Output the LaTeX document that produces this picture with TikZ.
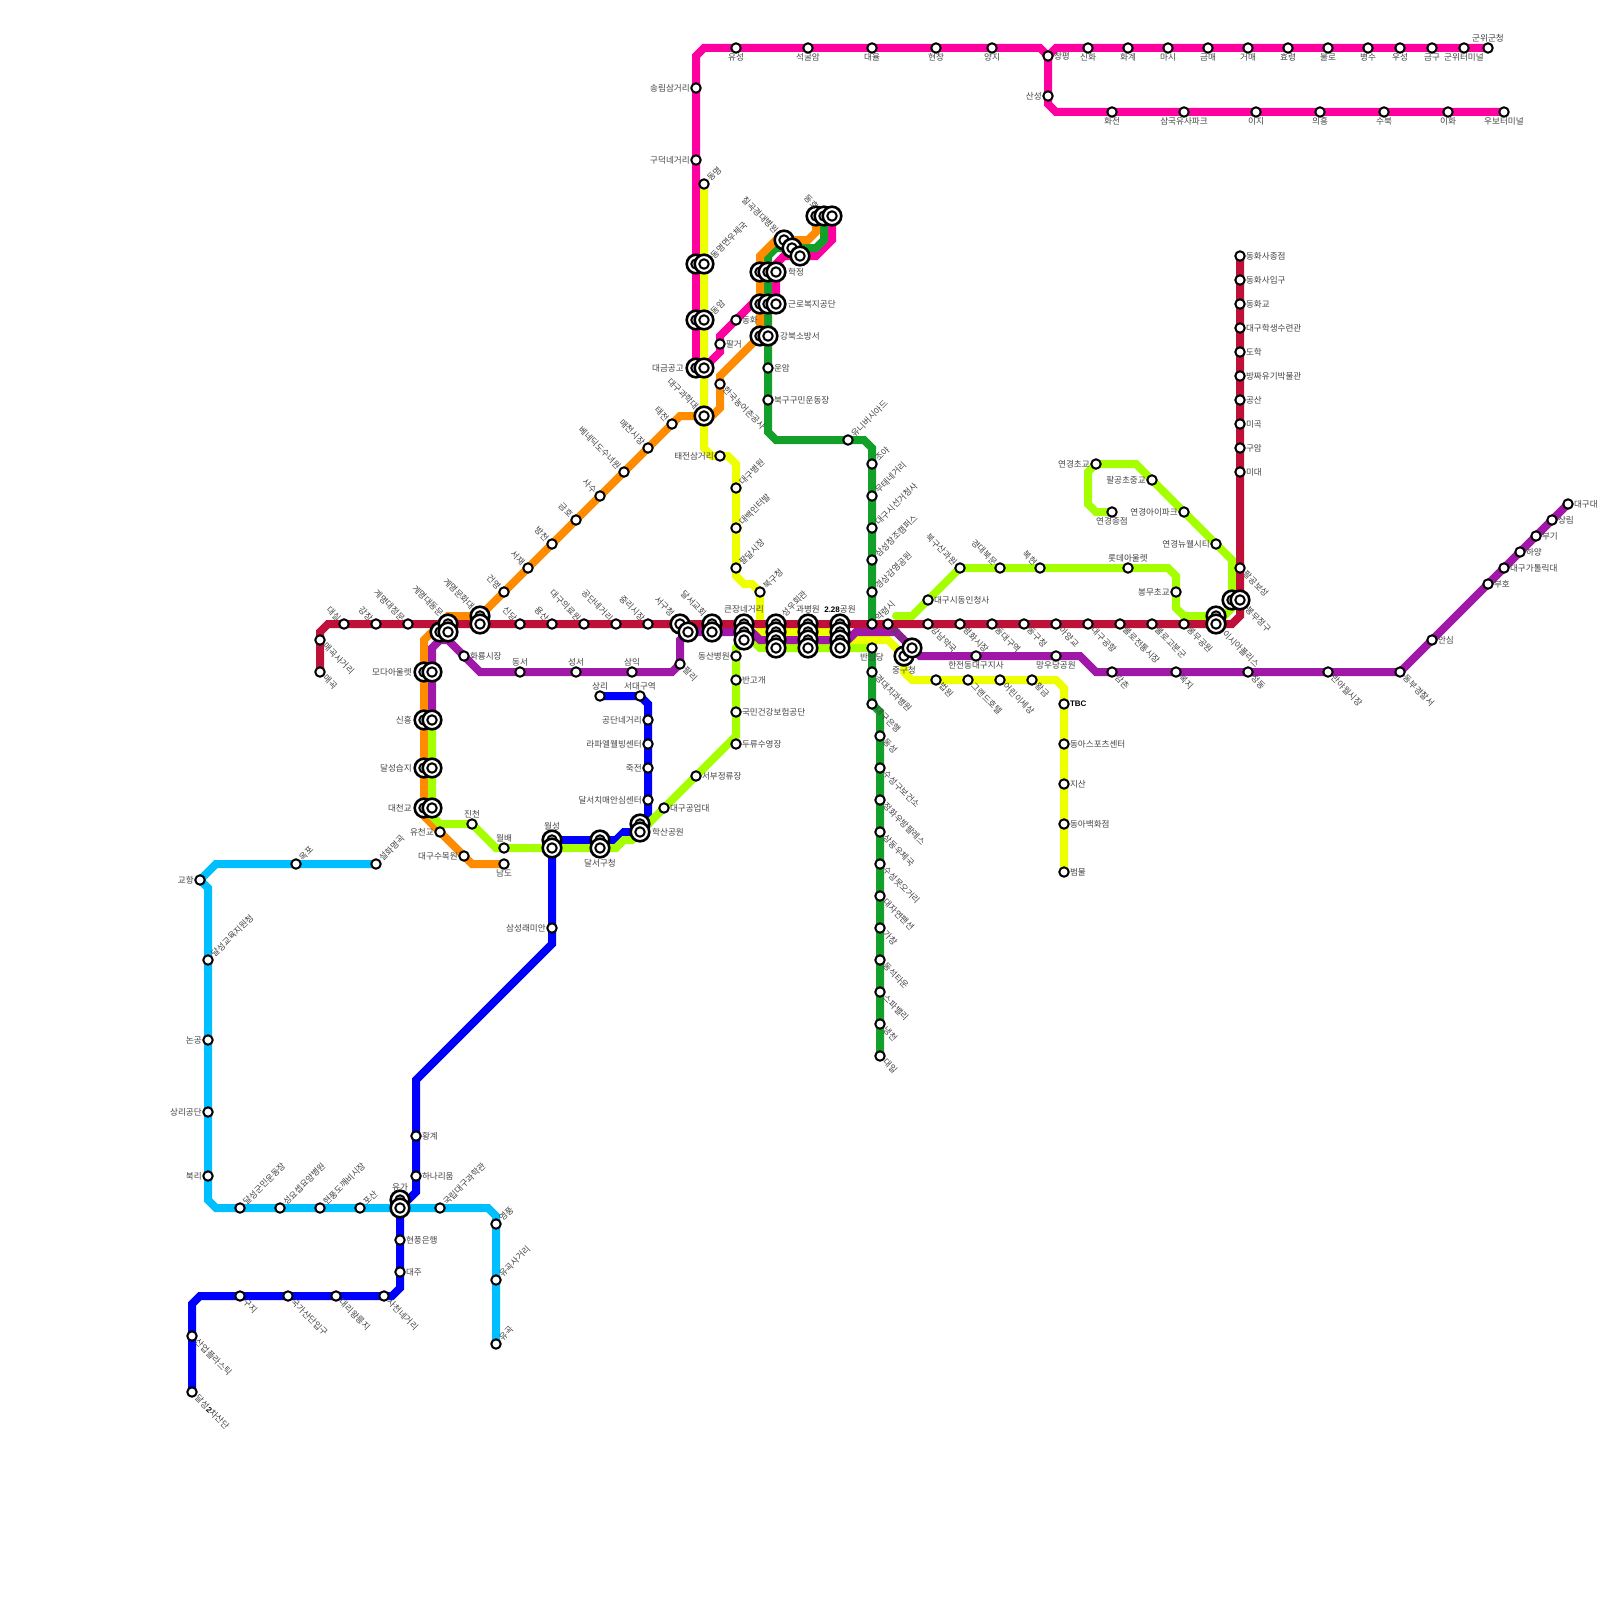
\documentclass[tikz,border=0pt]{standalone}
\usepackage{fontspec}
\setmainfont{Noto Sans CJK KR}
\newfontfamily\lsb{Liberation Sans}
\pgfdeclarelayer{bg}
\pgfsetlayers{bg,main}
\definecolor{cPink}{HTML}{FF00A0}
\definecolor{cLime}{HTML}{A6FF00}
\definecolor{cYel}{HTML}{EEFF00}
\definecolor{cOra}{HTML}{FF8C00}
\definecolor{cGre}{HTML}{12A02A}
\definecolor{cRed}{HTML}{BE1038}
\definecolor{cPur}{HTML}{A018A8}
\definecolor{cCya}{HTML}{00BFFF}
\definecolor{cBlu}{HTML}{0000FF}
\definecolor{cTxt}{HTML}{444444}
\newcounter{lbn}
\newcommand\bfl[1]{{\lsb\bfseries\fontsize{8}{9}\selectfont\color{black}#1}}
\tikzset{
  ln/.style={line width=8pt,line cap=round,line join=miter,miter limit=4},
  sta/.style={circle,draw=black,fill=white,line width=2pt,minimum size=9.4pt,inner sep=0pt},
  xo/.style={circle,draw=black,fill=white,line width=2.6pt,minimum size=18.6pt,inner sep=0pt},
  txt/.style={font=\fontsize{8.6}{9}\selectfont,text=cTxt,inner sep=0pt},
  lR/.style={txt,xshift=5.8pt,anchor=west},
  lL/.style={txt,xshift=-6pt,anchor=east},
  lA/.style={txt,yshift=5.5pt,anchor=south},
  lB/.style={txt,yshift=-5.5pt,anchor=north},
  lUR/.style={txt,xshift=4.5pt,yshift=4.5pt,rotate=45,anchor=west},
  lUL/.style={txt,xshift=-4.5pt,yshift=4.5pt,rotate=-45,anchor=east},
  lDR/.style={txt,xshift=4.5pt,yshift=-4.5pt,rotate=-45,anchor=west},
  bW/.style={txt,anchor=west},
  bE/.style={txt,anchor=east},
  bS/.style={txt,anchor=south},
  bN/.style={txt,anchor=north},
  bUR/.style={txt,rotate=45,anchor=west},
  bUL/.style={txt,rotate=-45,anchor=east},
  bDR/.style={txt,rotate=-45,anchor=west},
}
\newcommand\stn[5]{\node[sta] (#1) at (#2,#3) {};\stepcounter{lbn}\node[#4] (lb\thelbn) at (#2,#3) {#5};}
\newcommand\xf[3]{\node[xo] (#1) at (#2,#3) {};\node[sta] (#1-i) at (#2,#3) {};}
\newcommand\lb[4]{\stepcounter{lbn}\node[#1] (lb\thelbn) at (#2,#3) {#4};}
\begin{document}
\begin{tikzpicture}[x=1pt,y=-1pt]
\useasboundingbox (0,0) rectangle (1600,1600);
% interchanges
\xf{xa1}{696}{264}\xf{xa2}{704}{264}
\xf{xb1}{696}{320}\xf{xb2}{704}{320}
\xf{xc1}{696}{368}\xf{xc2}{704}{368}
\xf{xd}{704}{416}
\xf{xe1}{816}{216}\xf{xe2}{824}{216}\xf{xe3}{832}{216}
\xf{xf1}{784}{240}\xf{xf2}{792}{248}\xf{xf3}{800}{256}
\xf{xg1}{760}{272}\xf{xg2}{768}{272}\xf{xg3}{776}{272}
\xf{xh1}{760}{304}\xf{xh2}{768}{304}\xf{xh3}{776}{304}
\xf{xi1}{760}{336}\xf{xi2}{768}{336}
\xf{xj1}{440}{632}\xf{xj2}{448}{624}\xf{xj3}{448}{632}
\xf{xk1}{480}{616}\xf{xk2}{480}{624}
\xf{xl1}{424}{672}\xf{xl2}{432}{672}
\xf{xm1}{424}{720}\xf{xm2}{432}{720}
\xf{xn1}{424}{768}\xf{xn2}{432}{768}
\xf{xo1}{424}{808}\xf{xo2}{432}{808}
\xf{xp1}{552}{840}\xf{xp2}{552}{848}
\xf{xq1}{600}{840}\xf{xq2}{600}{848}
\xf{xr1}{640}{824}\xf{xr2}{640}{832}
\xf{xs1}{680}{624}\xf{xs2}{688}{632}
\xf{xt1}{712}{624}\xf{xt2}{712}{632}
\xf{xu1}{744}{624}\xf{xu2}{744}{632}\xf{xu3}{744}{640}
\xf{xv1}{776}{624}\xf{xv2}{776}{632}\xf{xv3}{776}{640}\xf{xv4}{776}{648}
\xf{xw1}{808}{624}\xf{xw2}{808}{632}\xf{xw3}{808}{640}\xf{xw4}{808}{648}
\xf{xx1}{840}{624}\xf{xx2}{840}{632}\xf{xx3}{840}{640}\xf{xx4}{840}{648}
\xf{xy1}{904}{656}\xf{xy2}{912}{648}
\xf{xz1}{1216}{616}\xf{xz2}{1216}{624}
\xf{xA1}{1232}{600}\xf{xA2}{1240}{600}
\xf{xB1}{400}{1200}\xf{xB2}{400}{1208}
% interchange labels
\lb{bUR}{712}{257}{동명면우체국}
\lb{bUR}{712}{313}{동암}
\lb{bE}{684}{368}{대금공고}
\lb{bUL}{697}{408}{대구과학대}
\lb{bUL}{817}{208}{동호}
\lb{bUL}{777}{232}{칠곡경대병원}
\lb{bW}{788}{272}{학정}
\lb{bW}{788}{304}{근로복지공단}
\lb{bW}{780}{336}{강북소방서}
\lb{bUL}{442}{615}{계명대동문}
\lb{bUL}{473}{608}{계명문화대}
\lb{bE}{412}{672}{모다아울렛}
\lb{bE}{412}{720}{신흥}
\lb{bE}{412}{768}{달성습지}
\lb{bE}{412}{808}{대천교}
\lb{bS}{552}{830}{월성}
\lb{bN}{600}{859}{달서구청}
\lb{bW}{652}{832}{학산공원}
\lb{bUL}{673}{615}{서구청}
\lb{bUL}{705}{615}{달서교회}
\lb{bS}{744}{613}{큰장네거리}
\lb{bUR}{783}{615}{성우회관}
\lb{bS}{808}{613}{과병원}
\lb{bS}{840}{613}{\bfl{2.28}공원}
\lb{bN}{904}{666}{중구청}
\lb{bDR}{1224}{632}{이시아폴리스}
\lb{bDR}{1247}{608}{봉무정구}
\lb{bS}{400}{1191}{유가}
% pink
\stn{p01}{1488}{48}{lA}{군위군청}
\stn{p02}{1464}{48}{lB}{군위터미널}
\stn{p03}{1432}{48}{lB}{금구}
\stn{p04}{1400}{48}{lB}{우성}
\stn{p05}{1368}{48}{lB}{병수}
\stn{p06}{1328}{48}{lB}{불로}
\stn{p07}{1288}{48}{lB}{효령}
\stn{p08}{1248}{48}{lB}{거매}
\stn{p09}{1208}{48}{lB}{금매}
\stn{p10}{1168}{48}{lB}{마시}
\stn{p11}{1128}{48}{lB}{화계}
\stn{p12}{1088}{48}{lB}{신화}
\stn{p13}{1048}{56}{lR}{창평}
\stn{p14}{1048}{96}{lL}{산성}
\stn{p15}{1112}{112}{lB}{화전}
\stn{p16}{1184}{112}{lB}{삼국유사파크}
\stn{p17}{1256}{112}{lB}{이지}
\stn{p18}{1320}{112}{lB}{의흥}
\stn{p19}{1384}{112}{lB}{수북}
\stn{p20}{1448}{112}{lB}{이화}
\stn{p21}{1504}{112}{lB}{우보터미널}
\stn{p22}{992}{48}{lB}{양지}
\stn{p23}{936}{48}{lB}{현창}
\stn{p24}{872}{48}{lB}{대율}
\stn{p25}{808}{48}{lB}{석굴암}
\stn{p26}{736}{48}{lB}{유성}
\stn{p27}{696}{88}{lL}{송림삼거리}
\stn{p28}{696}{160}{lL}{구덕네거리}
\stn{p29}{720}{344}{lR}{팔거}
\stn{p30}{736}{320}{lR}{동화}
% green
\stn{g01}{768}{368}{lR}{운암}
\stn{g02}{768}{400}{lR}{북구구민운동장}
\stn{g03}{848}{440}{lUR}{유니버시아드}
\stn{g04}{872}{464}{lUR}{조야}
\stn{g05}{872}{496}{lUR}{무태네거리}
\stn{g06}{872}{528}{lUR}{대구시선거청사}
\stn{g07}{872}{560}{lUR}{삼성창조캠퍼스}
\stn{g08}{872}{592}{lUR}{경상감영공원}
\stn{g09}{872}{648}{lB}{반월당}
\stn{g10}{872}{672}{lDR}{경대치과병원}
\stn{g11}{872}{704}{lDR}{대구은행}
\stn{g12}{880}{736}{lDR}{동성}
\stn{g13}{880}{768}{lDR}{수성구보건소}
\stn{g14}{880}{800}{lDR}{정화우방팔레스}
\stn{g15}{880}{832}{lDR}{상동우체국}
\stn{g16}{880}{864}{lDR}{수성못오거리}
\stn{g17}{880}{896}{lDR}{대자연팬션}
\stn{g18}{880}{928}{lDR}{가창}
\stn{g19}{880}{960}{lDR}{동석타운}
\stn{g20}{880}{992}{lDR}{스파밸리}
\stn{g21}{880}{1024}{lDR}{냉천}
\stn{g22}{880}{1056}{lDR}{대일}
% orange
\stn{o01}{720}{384}{lDR}{한국농어촌공사}
\stn{o02}{672}{424}{lUL}{태전}
\stn{o03}{648}{448}{lUL}{매천시장}
\stn{o04}{624}{472}{lUL}{베네딕도수녀원}
\stn{o05}{600}{496}{lUL}{사수}
\stn{o06}{576}{520}{lUL}{금호}
\stn{o07}{552}{544}{lUL}{방천}
\stn{o08}{528}{568}{lUL}{서재}
\stn{o09}{504}{592}{lUL}{건영}
\stn{o10}{440}{832}{lL}{유천교}
\stn{o11}{464}{856}{lL}{대구수목원}
\stn{o12}{504}{864}{lB}{남도}
% yellow
\stn{y01}{704}{184}{lUR}{동명}
\stn{y02}{720}{456}{lL}{태전삼거리}
\stn{y03}{736}{488}{lUR}{대구병원}
\stn{y04}{736}{528}{lUR}{대백인터발}
\stn{y05}{736}{568}{lUR}{팔달시장}
\stn{y06}{760}{592}{lUR}{북구청}
\stn{y07}{936}{680}{lDR}{법원}
\stn{y08}{968}{680}{lDR}{그랜드호텔}
\stn{y09}{1000}{680}{lDR}{어린이세상}
\stn{y10}{1032}{680}{lDR}{황금}
\stn{y11}{1064}{704}{lR}{\bfl{TBC}}
\stn{y12}{1064}{744}{lR}{동아스포츠센터}
\stn{y13}{1064}{784}{lR}{지산}
\stn{y14}{1064}{824}{lR}{동아백화점}
\stn{y15}{1064}{872}{lR}{범물}
% lime
\stn{l01}{472}{824}{lA}{진천}
\stn{l02}{504}{848}{lA}{월배}
\stn{l03}{664}{808}{lR}{대구공업대}
\stn{l04}{696}{776}{lR}{서부정류장}
\stn{l05}{736}{744}{lR}{두류수영장}
\stn{l06}{736}{712}{lR}{국민건강보험공단}
\stn{l07}{736}{680}{lR}{반고개}
\stn{l08}{736}{656}{lL}{동산병원}
\stn{l09}{928}{600}{lR}{대구시동인청사}
\stn{l10}{960}{568}{lUL}{북구산과원}
\stn{l11}{1000}{568}{lUL}{경대북문}
\stn{l12}{1040}{568}{lUL}{복현}
\stn{l13}{1128}{568}{lA}{롯데아울렛}
\stn{l14}{1176}{592}{lL}{봉무초교}
\stn{l15}{1216}{544}{lL}{연경뉴웰시티}
\stn{l16}{1184}{512}{lL}{연경아이파크}
\stn{l17}{1152}{480}{lL}{팔공초중교}
\stn{l18}{1096}{464}{lL}{연경초교}
\stn{l19}{1112}{512}{lB}{연경종점}
% red
\stn{r01}{320}{672}{lDR}{매곡}
\stn{r02}{320}{640}{lDR}{매곡사거리}
\stn{r03}{344}{624}{lUL}{대실}
\stn{r04}{376}{624}{lUL}{강창}
\stn{r05}{408}{624}{lUL}{계명대정문}
\stn{r06}{520}{624}{lUL}{신당}
\stn{r07}{552}{624}{lUL}{용산}
\stn{r08}{584}{624}{lUL}{대구의료원}
\stn{r09}{616}{624}{lUL}{공단네거리}
\stn{r10}{648}{624}{lUL}{중리시장}
\stn{r11}{872}{624}{lUR}{약령시}
\stn{r12}{888}{624}{lDR}{칠성}
\stn{r13}{928}{624}{lDR}{강남약국}
\stn{r14}{960}{624}{lDR}{평화시장}
\stn{r15}{992}{624}{lDR}{동대구역}
\stn{r16}{1024}{624}{lDR}{동구청}
\stn{r17}{1056}{624}{lDR}{아양교}
\stn{r18}{1088}{624}{lDR}{대구공항}
\stn{r19}{1120}{624}{lDR}{불로전통시장}
\stn{r20}{1152}{624}{lDR}{불로고분군}
\stn{r21}{1184}{624}{lDR}{봉무공원}
\stn{r22}{1240}{568}{lDR}{팔공보성}
\stn{r23}{1240}{472}{lR}{미대}
\stn{r24}{1240}{448}{lR}{구암}
\stn{r25}{1240}{424}{lR}{미곡}
\stn{r26}{1240}{400}{lR}{공산}
\stn{r27}{1240}{376}{lR}{방짜유기박물관}
\stn{r28}{1240}{352}{lR}{도학}
\stn{r29}{1240}{328}{lR}{대구학생수련관}
\stn{r30}{1240}{304}{lR}{동화교}
\stn{r31}{1240}{280}{lR}{동화사입구}
\stn{r32}{1240}{256}{lR}{동화사종점}
% purple
\stn{u01}{464}{656}{lR}{화룡시장}
\stn{u02}{520}{672}{lA}{동서}
\stn{u03}{576}{672}{lA}{성서}
\stn{u04}{632}{672}{lA}{삼익}
\stn{u05}{680}{664}{lDR}{팔리}
\stn{u06}{976}{656}{lB}{한전동대구지사}
\stn{u07}{1056}{656}{lB}{망우당공원}
\stn{u08}{1112}{672}{lDR}{감촌}
\stn{u09}{1176}{672}{lDR}{복지}
\stn{u10}{1248}{672}{lDR}{정동}
\stn{u11}{1328}{672}{lDR}{반야월시장}
\stn{u12}{1400}{672}{lDR}{동부경찰서}
\stn{u13}{1432}{640}{lR}{안심}
\stn{u14}{1488}{584}{lR}{부호}
\stn{u15}{1504}{568}{lR}{대구가톨릭대}
\stn{u16}{1520}{552}{lR}{하양}
\stn{u17}{1536}{536}{lR}{부기}
\stn{u18}{1552}{520}{lR}{상림}
\stn{u19}{1568}{504}{lR}{대구대}
% blue
\stn{b01}{192}{1392}{lDR}{달성\bfl{2}차산단}
\stn{b02}{192}{1336}{lDR}{산업플라스틱}
\stn{b03}{240}{1296}{lDR}{구지}
\stn{b04}{288}{1296}{lDR}{국가산단입구}
\stn{b05}{336}{1296}{lDR}{대리왕릉지}
\stn{b06}{384}{1296}{lDR}{사천네거리}
\stn{b07}{400}{1272}{lR}{대주}
\stn{b08}{400}{1240}{lR}{현풍은행}
\stn{b09}{416}{1176}{lR}{하나리움}
\stn{b10}{416}{1136}{lR}{황계}
\stn{b11}{552}{928}{lL}{삼성래미안}
\stn{b12}{648}{800}{lL}{달서치매안심센터}
\stn{b13}{648}{768}{lL}{죽전}
\stn{b14}{648}{744}{lL}{라파엘웰빙센터}
\stn{b15}{648}{720}{lL}{공단네거리}
\stn{b16}{640}{696}{lA}{서대구역}
\stn{b17}{600}{696}{lA}{상리}
% cyan
\stn{c01}{376}{864}{lUR}{설화명곡}
\stn{c02}{296}{864}{lUR}{옥포}
\stn{c03}{200}{880}{lL}{교항}
\stn{c04}{208}{960}{lUR}{달성교육지원청}
\stn{c05}{208}{1040}{lL}{논공}
\stn{c06}{208}{1112}{lL}{상리공단}
\stn{c07}{208}{1176}{lL}{북리}
\stn{c08}{240}{1208}{lUR}{달성군민운동장}
\stn{c09}{280}{1208}{lUR}{성요셉요양병원}
\stn{c10}{320}{1208}{lUR}{현풍도깨비시장}
\stn{c11}{360}{1208}{lUR}{포산}
\stn{c12}{440}{1208}{lUR}{국립대구과학관}
\stn{c13}{496}{1224}{lUR}{영풍}
\stn{c14}{496}{1280}{lUR}{유곡사거리}
\stn{c15}{496}{1344}{lUR}{유곡}
% free line ends
\coordinate (limeA) at (896,616);
\coordinate (limeB) at (866,648);
\begin{pgfonlayer}{bg}
\fill[white] (0,0) rectangle (1600,1600);
\draw[ln,cBlu] (b01.center) -- (192,1304) -- (200,1296) -- (392,1296) -- (400,1288) -- (xB2.center) -- (416,1192) -- (416,1080) -- (552,944) -- (xp1.center) -- (616,840) -- (624,832) -- (xr2.center) -- (648,824) -- (648,704) -- (b16.center) -- (b17.center);
\draw[ln,cCya] (c01.center) -- (216,864) -- (c03.center) -- (208,888) -- (208,1200) -- (216,1208) -- (488,1208) -- (496,1216) -- (c15.center);
\draw[ln,cPink] (p01.center) -- (1056,48) -- (p13.center) -- (1040,48) -- (704,48) -- (696,56) -- (xc1.center) -- (xc2.center) -- (720,352) -- (720,336) -- (752,304) -- (xh3.center) -- (776,264) -- (784,256) -- (816,256) -- (832,240) -- (xe3.center);
\draw[ln,cPink] (p13.center) -- (1048,104) -- (1056,112) -- (p21.center);
\draw[ln,cGre] (xe2.center) -- (824,240) -- (816,248) -- (776,248) -- (768,256) -- (768,432) -- (776,440) -- (864,440) -- (872,448) -- (g11.center) -- (880,712) -- (g22.center);
\draw[ln,cOra] (xe1.center) -- (816,232) -- (808,240) -- (776,240) -- (760,256) -- (xi1.center) -- (720,376) -- (720,408) -- (712,416) -- (680,416) -- (xk1.center) -- (448,616) -- (424,640) -- (424,816) -- (472,864) -- (o12.center);
\draw[ln,cLime] (xm2.center) -- (432,816) -- (440,824) -- (l01.center) -- (496,848) -- (616,848) -- (624,840) -- (632,840) -- (xr2.center) -- (736,736) -- (736,648) -- (xu3.center) -- (752,640) -- (760,648) -- (limeB);
\draw[ln,cLime] (limeA) -- (912,616) -- (960,568) -- (1168,568) -- (1176,576) -- (1176,608) -- (1184,616) -- (1224,616) -- (1232,608) -- (1232,560) -- (1136,464) -- (l18.center) -- (1088,472) -- (1088,504) -- (1096,512) -- (l19.center);
\draw[ln,cYel] (y01.center) -- (704,448) -- (712,456) -- (728,456) -- (736,464) -- (736,576) -- (744,584) -- (752,584) -- (y06.center) -- (760,632) -- (840,632) -- (848,640) -- (888,640) -- (xy1.center) -- (904,672) -- (912,680) -- (1056,680) -- (1064,688) -- (y15.center);
\draw[ln,cPur] (u19.center) -- (u12.center) -- (1096,672) -- (1080,656) -- (920,656) -- (896,632) -- (856,632) -- (848,640) -- (768,640) -- (760,640) -- (752,632) -- (xs2.center) -- (680,640) -- (u05.center) -- (672,672) -- (480,672) -- (448,640) -- (440,640) -- (432,648) -- (xm2.center);
\draw[ln,cRed] (r32.center) -- (1240,616) -- (1232,624) -- (328,624) -- (320,632) -- (r01.center);
\end{pgfonlayer}
\end{tikzpicture}
\end{document}
